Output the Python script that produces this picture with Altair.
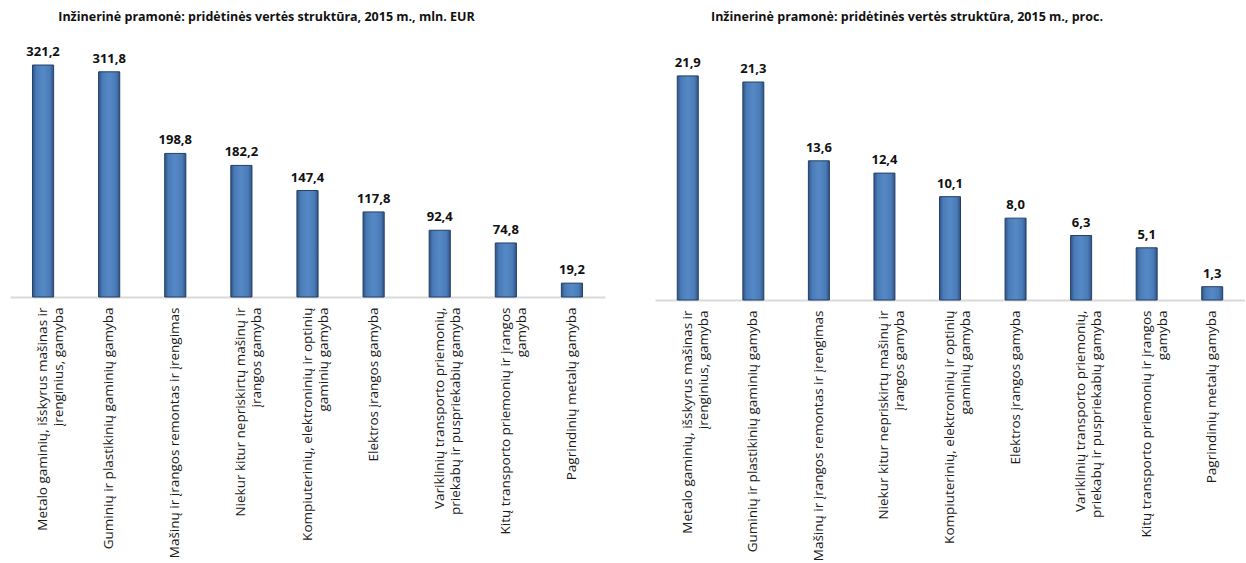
import altair as alt
import pandas as pd

categories = [
    "Metalo gaminių, išskyrus mašinas ir|įrenginius, gamyba",
    "Guminių ir plastikinių gaminių gamyba",
    "Mašinų ir įrangos remontas ir įrengimas",
    "Niekur kitur nepriskirtų mašinų ir|įrangos gamyba",
    "Kompiuterinių, elektroninių ir optinių|gaminių gamyba",
    "Elektros įrangos gamyba",
    "Variklinių transporto priemonių,|priekabų ir puspriekabių gamyba",
    "Kitų transporto priemonių ir įrangos|gamyba",
    "Pagrindinių metalų gamyba",
]
values_eur = [321.2, 311.8, 198.8, 182.2, 147.4, 117.8, 92.4, 74.8, 19.2]
values_pct = [21.9, 21.3, 13.6, 12.4, 10.1, 8.0, 6.3, 5.1, 1.3]

title_eur = "Inžinerinė pramonė: pridėtinės vertės struktūra, 2015 m., mln. EUR"
title_pct = "Inžinerinė pramonė: pridėtinės vertės struktūra, 2015 m., proc."

FONT = "Open Sans"

bar_fill = alt.Gradient(
    gradient="linear",
    x1=0, x2=1, y1=0, y2=0,
    stops=[
        alt.GradientStop(color="#2f5486", offset=0),
        alt.GradientStop(color="#4a7bb7", offset=0.18),
        alt.GradientStop(color="#5589c6", offset=0.5),
        alt.GradientStop(color="#4a7bb7", offset=0.82),
        alt.GradientStop(color="#2f5486", offset=1),
    ],
)


def panel(values, title, width, height, ymax, dx):
    df = pd.DataFrame({"cat": categories, "v": values})
    base = alt.Chart(df).transform_calculate(
        lab="replace(format(datum.v, '.1f'), '.', ',')"
    ).encode(
        x=alt.X(
            "cat:N",
            sort=None,
            scale=alt.Scale(paddingInner=0.68, paddingOuter=0.34),
            axis=alt.Axis(
                title=None,
                labelAngle=270,
                labelAlign="right",
                labelBaseline="middle",
                labelExpr="split(datum.label, '|')",
                ticks=False,
                domainColor="#d9d9d9",
                domainWidth=2,
                labelPadding=10,
                labelFont=FONT,
                labelFontSize=13.5,
                labelColor="#1a1a1a",
                labelLimit=0,
                labelLineHeight=16,
            ),
        ),
        y=alt.Y(
            "v:Q",
            scale=alt.Scale(domain=[0, ymax], nice=False, zero=True),
            axis=None,
        ),
    )
    bars = base.mark_bar(fill=bar_fill, stroke="#233f66", strokeWidth=1)
    text = base.mark_text(
        baseline="bottom",
        dy=-6,
        font=FONT,
        fontSize=13,
        fontWeight="bold",
        color="#111111",
    ).encode(text="lab:N")
    return alt.layer(bars, text).properties(
        width=width,
        height=height,
        title=alt.TitleParams(
            text=title,
            font=FONT,
            fontSize=12.5,
            fontWeight="bold",
            color="#111111",
            anchor="middle",
            dx=dx,
            offset=14,
        ),
    )


left = panel(values_eur, title_eur, 595, 260, 360, -41)
right = panel(values_pct, title_pct, 590, 263, 25.7, -43)

chart = (
    alt.hconcat(left, right, spacing=50)
    .properties(padding={"left": 10, "top": 10, "right": 0, "bottom": 0})
    .configure(background="white")
    .configure_view(stroke=None, strokeWidth=0)
)

chart.save("out.html", embed_options={"renderer": "svg", "actions": False})
